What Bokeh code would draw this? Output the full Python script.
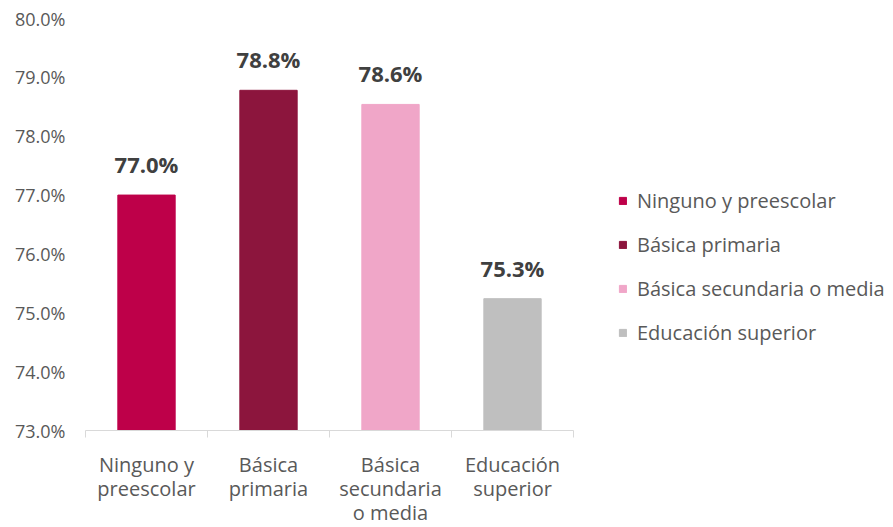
from bokeh.plotting import figure
from bokeh.models import ColumnDataSource, FixedTicker, PrintfTickFormatter, Legend, LegendItem, Range1d
from bokeh.core.properties import value
from bokeh.embed import file_html
from bokeh.resources import INLINE

categories = ["Ninguno y preescolar", "Básica primaria", "Básica secundaria o media", "Educación superior"]
axis_labels = ["Ninguno y\npreescolar", "Básica\nprimaria", "Básica\nsecundaria\no media", "Educación\nsuperior"]
values = [77.0, 78.78, 78.54, 75.24]
value_labels = ["77.0%", "78.8%", "78.6%", "75.3%"]
colors = ["#BE0049", "#8C153D", "#F0A6C8", "#BFBFBF"]
y_ticks = [73, 74, 75, 76, 77, 78, 79, 80]

FONT = "Open Sans"
xs = [i + 0.5 for i in range(len(categories))]

src = ColumnDataSource(dict(x=xs, top=values, color=colors, cat=categories, lab=value_labels))

p = figure(frame_width=488, frame_height=412,
           min_border_left=85, min_border_top=18, min_border_bottom=97, min_border_right=0,
           output_backend="svg", toolbar_location=None,
           x_range=Range1d(0, 4), y_range=Range1d(73, 80))
p.outline_line_color = None
p.xgrid.grid_line_color = None
p.ygrid.grid_line_color = None

r = p.vbar(x="x", top="top", bottom=73, width=0.47, color="color", source=src)

p.text(x="x", y="top", text="lab", source=src, y_offset=-16,
       text_align="center", text_baseline="bottom",
       text_font=value(FONT), text_font_style="bold", text_font_size="22px",
       text_color="#404040")

# y axis
p.yaxis.ticker = FixedTicker(ticks=y_ticks)
p.yaxis.formatter = PrintfTickFormatter(format="%.1f%%")
p.yaxis.axis_line_color = None
p.yaxis.major_tick_line_color = None
p.yaxis.minor_tick_line_color = None
p.yaxis.major_label_standoff = 14
p.yaxis.major_label_text_font = FONT
p.yaxis.major_label_text_font_size = "18px"
p.yaxis.major_label_text_color = "#595959"

# x axis
p.xaxis.ticker = FixedTicker(ticks=xs, minor_ticks=[0, 1, 2, 3, 4])
p.xaxis.major_label_overrides = {x: l for x, l in zip(xs, axis_labels)}
p.xaxis.axis_line_color = "#D9D9D9"
p.xaxis.major_tick_line_color = None
p.xaxis.minor_tick_line_color = "#D9D9D9"
p.xaxis.minor_tick_out = 7
p.xaxis.minor_tick_in = 0
p.xaxis.major_label_standoff = 13
p.xaxis.major_label_text_font = FONT
p.xaxis.major_label_text_font_size = "20px"
p.xaxis.major_label_text_line_height = 0.9
p.xaxis.major_label_text_color = "#595959"

items = [LegendItem(label=c, renderers=[r], index=i) for i, c in enumerate(categories)]
legend = Legend(items=items, location=(45, 84),
                label_text_font=FONT, label_text_font_size="20px", label_text_color="#595959",
                glyph_width=9, glyph_height=9, label_standoff=10, spacing=17, label_height=20,
                border_line_color=None, background_fill_alpha=0, padding=0, margin=0)
p.add_layout(legend, "right")

open("out.html", "w").write(file_html(p, INLINE))
